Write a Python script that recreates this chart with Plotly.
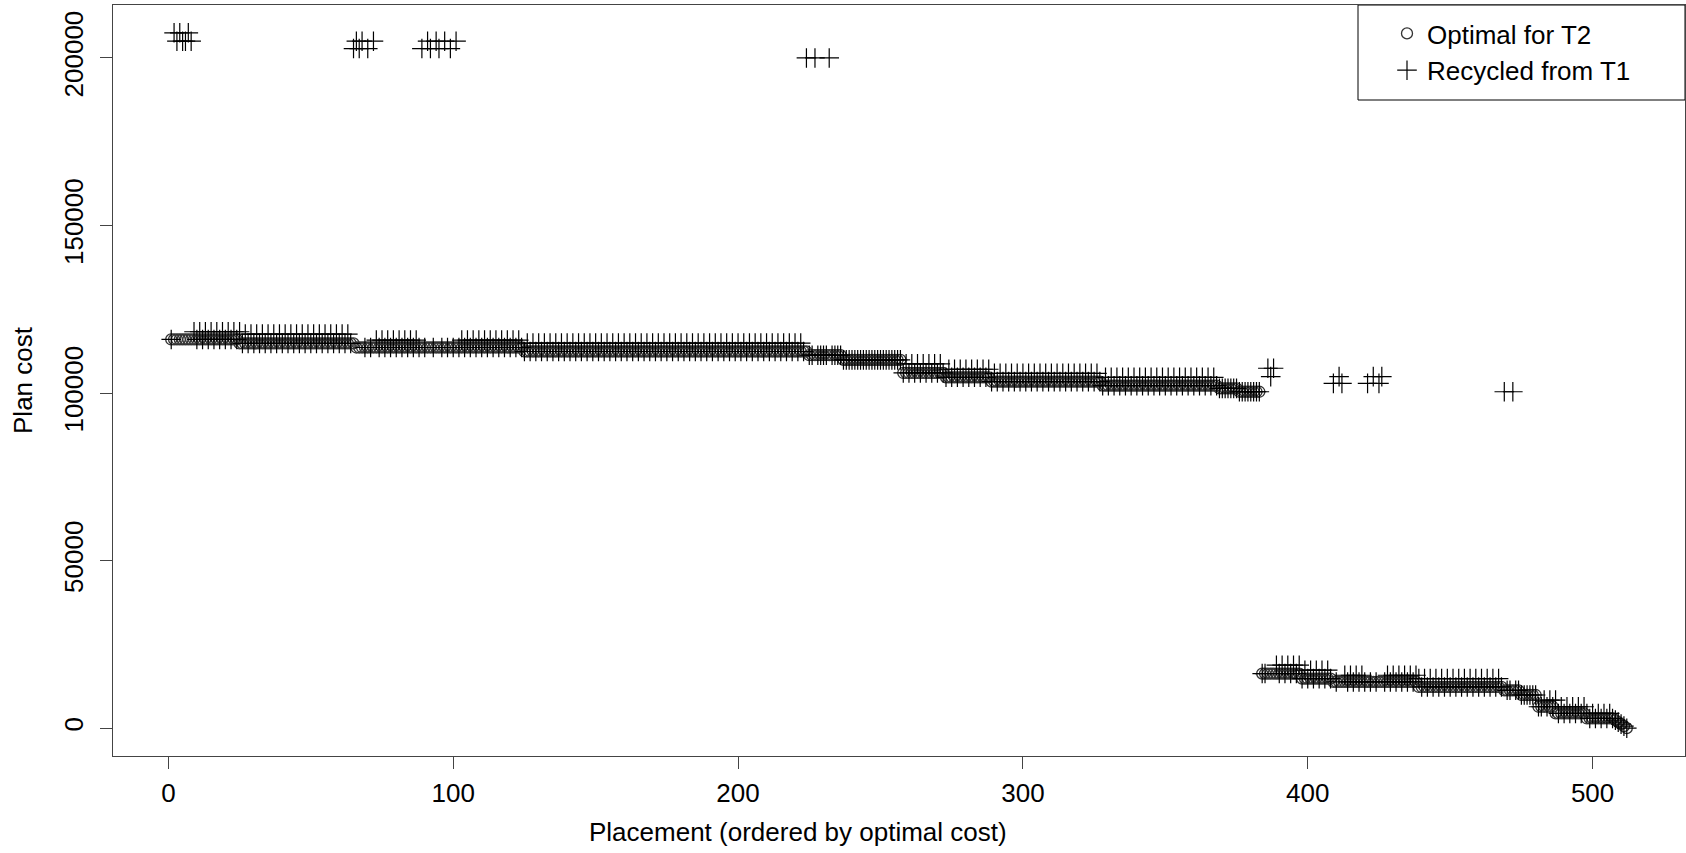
import plotly.graph_objects as go

# ---- data ----
# Optimal cost for T2: run-length steps (first placement index of each run, cost)
opt_run_start = [1, 25, 66, 125, 225, 237, 258, 273, 289, 328, 369, 376,
                 384, 398, 409, 439, 469, 475, 481, 487, 498, 508, 509, 510, 511, 512]
opt_run_cost = [116000, 114800, 113600, 112400, 111300, 109900, 106000, 104700,
                103400, 102200, 101400, 100400, 16300, 14800, 13800, 12300,
                11300, 9900, 6400, 4400, 2900, 2400, 1800, 1200, 600, 0]
n_placements = 512

# Recycled from T1: runs where the recycled plan is costlier (every second placement)
rec_run_start = [7, 27, 73, 101, 126, 259, 274, 290, 329, 387, 399, 411, 426, 439, 483, 489, 498]
rec_run_end = [25, 65, 89, 124, 224, 272, 288, 327, 368, 397, 408, 421, 438, 468, 488, 497, 507]
rec_run_cost = [118300, 117600, 115800, 115800, 114900, 108700, 107100, 105900,
                104700, 18800, 17300, 15800, 15800, 14800, 8400, 6400, 4400]
rec_run_every = 2

# Recycled outliers far above the optimal cost
out_idx = [2, 3, 4, 5, 6, 7, 8,
           65, 66, 67, 68, 70, 72,
           89, 91, 92, 94, 95, 97, 99, 101,
           224, 227, 232,
           386, 387, 388,
           409, 411, 412,
           421, 423, 425, 426,
           469, 472]
out_cost = [207500, 205000, 207500, 205000, 205000, 207500, 205000,
            202800, 205000, 202800, 205000, 202800, 205000,
            202800, 205000, 202800, 205000, 202800, 205000, 202800, 205000,
            200000, 200000, 200000,
            107400, 104900, 107400,
            102900, 104900, 102900,
            102900, 104900, 102900, 104900,
            100400, 100400]

# ---- expand ----
x = list(range(1, n_placements + 1))
optimal = []
for i in x:
    c = None
    for s, v in zip(opt_run_start, opt_run_cost):
        if i >= s:
            c = v
    optimal.append(c)

recycled = list(optimal)
for s, e, v in zip(rec_run_start, rec_run_end, rec_run_cost):
    for i in range(s, e + 1, rec_run_every):
        recycled[i - 1] = v
for i, v in zip(out_idx, out_cost):
    recycled[i - 1] = v

allv = optimal + recycled
ymin, ymax = min(allv), max(allv)
ypad = 0.04 * (ymax - ymin)
xpad = 0.04 * (n_placements - 1)

FONT = "Liberation Sans, Arial, sans-serif"
FS = 26

fig = go.Figure()
fig.add_trace(go.Scatter(
    x=x, y=optimal, mode="markers", name="Optimal for T2",
    marker=dict(symbol="circle-open", size=11, color="#333333",
                line=dict(width=1.3, color="#333333")),
))
fig.add_trace(go.Scatter(
    x=x, y=recycled, mode="markers", name="Recycled from T1",
    marker=dict(symbol="cross-thin-open", size=14, color="black",
                line=dict(width=1.2, color="black")),
))

L, R, T, B = 113, 1, 5, 97
W, H = 1686, 853
pw = W - L - R
ph = H - T - B

fig.update_layout(
    width=W, height=H,
    margin=dict(l=L, r=R, t=T, b=B, pad=0),
    paper_bgcolor="white", plot_bgcolor="white",
    font=dict(family=FONT, size=FS, color="black"),
    showlegend=True,
    legend=dict(
        x=(1387 - L) / pw, y=1 - 5 / ph, xanchor="left", yanchor="top",
        bgcolor="rgba(0,0,0,0)", borderwidth=0,
        font=dict(family=FONT, size=FS, color="black"),
        tracegroupgap=0, itemwidth=30,
    ),
    shapes=[dict(type="rect", xref="paper", yref="paper",
                 x0=(1358 - L) / pw, x1=1, y0=1 - 95 / ph, y1=1,
                 line=dict(color="black", width=1), fillcolor="white", layer="below")],
    annotations=[dict(text="Placement (ordered by optimal cost)",
                      xref="paper", yref="paper",
                      x=(798 - L) / pw, y=-(832 - (H - B)) / ph,
                      xanchor="center", yanchor="middle", showarrow=False,
                      font=dict(family=FONT, size=FS, color="black"))],
)
fig.update_xaxes(
    range=[1 - xpad, n_placements + xpad],
    tickvals=[0, 100, 200, 300, 400, 500], ticktext=["0", "100", "200", "300", "400", "500"],
    ticks="outside", ticklen=12, tickcolor="#444", tickwidth=1,
    showline=True, linecolor="#444", linewidth=1, mirror=True,
    showgrid=False, zeroline=False,
    ticklabelstandoff=2,
    tickfont=dict(family=FONT, size=FS),
)
fig.update_yaxes(
    range=[ymin - ypad, ymax + ypad],
    tickvals=[0, 50000, 100000, 150000, 200000],
    ticktext=["0", "50000", "100000", "150000", "200000"],
    tickangle=-90,
    ticks="outside", ticklen=12, tickcolor="#444", tickwidth=1,
    showline=True, linecolor="#444", linewidth=1, mirror=True,
    showgrid=False, zeroline=False,
    ticklabelstandoff=7,
    title=dict(text="Plan cost", standoff=18, font=dict(family=FONT, size=FS)),
    tickfont=dict(family=FONT, size=FS),
)

fig.write_html("out.html", config={"displayModeBar": False},
               post_script="document.body.style.margin='0px';")
